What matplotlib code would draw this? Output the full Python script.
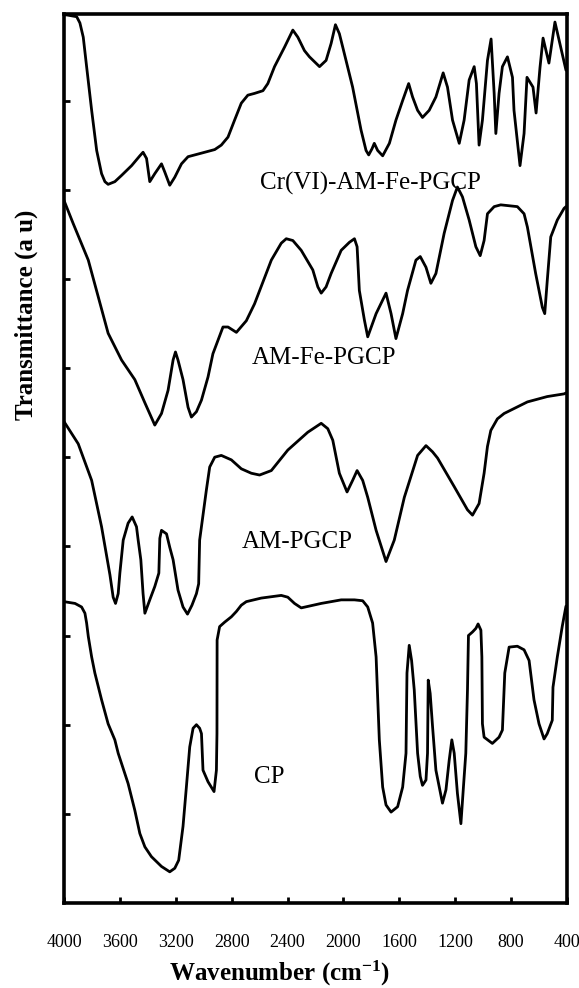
import matplotlib
matplotlib.use("Agg")
import matplotlib.pyplot as plt

# FTIR spectra, stacked with offsets (transmittance in arbitrary units)
cr_wn = [4000, 3981, 3909, 3886, 3862, 3838, 3802, 3766, 3731, 3707, 3684, 3636, 3588,
         3516, 3457, 3434, 3409, 3386, 3350, 3302, 3279, 3243, 3207, 3159, 3112, 3016,
         2921, 2874, 2826, 2779, 2731, 2684, 2636, 2576, 2541, 2493, 2421, 2362, 2326,
         2279, 2243, 2171, 2124, 2088, 2057, 2029, 2005, 1934, 1874, 1838, 1819, 1795,
         1779, 1755, 1719, 1671, 1624, 1576, 1533, 1505, 1469, 1434, 1386, 1338, 1286,
         1255, 1219, 1171, 1136, 1100, 1064, 1048, 1029, 1005, 969, 943, 921, 909, 886,
         862, 826, 790, 779, 736, 707, 686, 643, 621, 593, 571, 529, 486, 407]
cr_t = [9.96, 9.96, 9.94, 9.87, 9.71, 9.38, 8.89, 8.44, 8.18, 8.09, 8.06, 8.09, 8.16,
        8.27, 8.38, 8.42, 8.35, 8.09, 8.18, 8.29, 8.20, 8.05, 8.14, 8.29, 8.37, 8.41,
        8.45, 8.50, 8.59, 8.78, 8.97, 9.06, 9.08, 9.11, 9.19, 9.38, 9.60, 9.79, 9.71,
        9.56, 9.49, 9.38, 9.45, 9.64, 9.85, 9.75, 9.60, 9.15, 8.67, 8.44, 8.39, 8.46,
        8.52, 8.44, 8.38, 8.52, 8.78, 9.00, 9.19, 9.04, 8.89, 8.81, 8.89, 9.04, 9.31,
        9.15, 8.78, 8.52, 8.78, 9.23, 9.38, 9.19, 8.50, 8.78, 9.45, 9.69, 9.08, 8.63,
        9.08, 9.38, 9.49, 9.26, 8.89, 8.27, 8.63, 9.26, 9.15, 8.86, 9.37, 9.70, 9.42,
        9.88, 9.34]

fe_wn = [4000, 3934, 3826, 3755, 3684, 3588, 3493, 3421, 3350, 3302, 3255, 3219, 3202,
         3184, 3148, 3112, 3088, 3052, 3016, 2969, 2934, 2862, 2826, 2766, 2695, 2636,
         2516, 2445, 2409, 2362, 2302, 2219, 2183, 2159, 2124, 2088, 2016, 1957, 1921,
         1902, 1886, 1850, 1826, 1766, 1695, 1659, 1624, 1576, 1541, 1481, 1450, 1409,
         1374, 1338, 1279, 1219, 1184, 1148, 1100, 1052, 1021, 993, 969, 921, 874, 755,
         707, 683, 624, 576, 559, 541, 516, 469, 421, 407]
fe_t = [7.88, 7.62, 7.21, 6.80, 6.39, 6.09, 5.87, 5.61, 5.36, 5.49, 5.75, 6.09, 6.18,
        6.09, 5.87, 5.56, 5.45, 5.51, 5.64, 5.90, 6.16, 6.46, 6.46, 6.40, 6.53, 6.72,
        7.21, 7.40, 7.45, 7.43, 7.32, 7.10, 6.91, 6.84, 6.91, 7.06, 7.32, 7.41, 7.45,
        7.36, 6.87, 6.54, 6.35, 6.61, 6.84, 6.61, 6.33, 6.61, 6.87, 7.21, 7.25, 7.13,
        6.95, 7.06, 7.51, 7.88, 8.03, 7.92, 7.66, 7.36, 7.26, 7.43, 7.73, 7.81, 7.83,
        7.81, 7.73, 7.58, 7.06, 6.68, 6.61, 6.98, 7.47, 7.66, 7.79, 7.81]

am_wn = [4000, 3898, 3802, 3731, 3671, 3648, 3631, 3612, 3600, 3576, 3541, 3512, 3481,
         3469, 3450, 3434, 3421, 3386, 3350, 3321, 3314, 3302, 3266, 3243, 3219, 3184,
         3148, 3116, 3084, 3052, 3036, 3029, 2981, 2957, 2921, 2874, 2802, 2731, 2659,
         2600, 2516, 2398, 2255, 2159, 2112, 2076, 2029, 1974, 1934, 1902, 1862, 1826,
         1766, 1695, 1636, 1564, 1469, 1409, 1362, 1326, 1207, 1112, 1076, 1029, 993,
         969, 945, 898, 850, 683, 541, 421, 407]
am_t = [5.40, 5.15, 4.74, 4.22, 3.68, 3.43, 3.36, 3.47, 3.70, 4.07, 4.26, 4.33, 4.22,
        4.07, 3.85, 3.47, 3.25, 3.40, 3.55, 3.70, 4.09, 4.18, 4.14, 3.99, 3.85, 3.51,
        3.32, 3.24, 3.34, 3.47, 3.58, 4.07, 4.63, 4.89, 5.00, 5.02, 4.97, 4.87, 4.82,
        4.80, 4.85, 5.08, 5.28, 5.38, 5.32, 5.19, 4.82, 4.61, 4.74, 4.85, 4.74, 4.55,
        4.18, 3.83, 4.07, 4.55, 5.02, 5.13, 5.06, 4.99, 4.67, 4.41, 4.35, 4.48, 4.82,
        5.12, 5.30, 5.43, 5.49, 5.62, 5.68, 5.71, 5.72]

cp_wn = [4000, 3921, 3874, 3850, 3838, 3826, 3802, 3779, 3731, 3684, 3636, 3612, 3541,
         3493, 3457, 3421, 3374, 3302, 3243, 3207, 3179, 3148, 3124, 3100, 3076, 3052,
         3029, 3016, 3005, 2969, 2926, 2909, 2905, 2904, 2886, 2850, 2802, 2766, 2731,
         2695, 2588, 2445, 2398, 2350, 2302, 2159, 2016, 1921, 1862, 1826, 1791, 1766,
         1743, 1719, 1695, 1659, 1612, 1576, 1552, 1545, 1529, 1512, 1493, 1469, 1450,
         1434, 1409, 1398, 1393, 1379, 1362, 1338, 1291, 1266, 1243, 1224, 1207, 1184,
         1159, 1141, 1124, 1112, 1105, 1076, 1052, 1036, 1016, 1009, 1005, 993, 934, 886,
         862, 845, 814, 755, 707, 671, 636, 600, 564, 541, 505, 500, 469, 434, 407]
cp_t = [3.38, 3.36, 3.32, 3.25, 3.14, 2.99, 2.76, 2.58, 2.28, 2.01, 1.83, 1.68, 1.34,
        1.04, 0.78, 0.63, 0.52, 0.41, 0.35, 0.39, 0.48, 0.86, 1.30, 1.75, 1.96, 2.00,
        1.96, 1.90, 1.49, 1.36, 1.25, 1.49, 1.90, 2.95, 3.10, 3.15, 3.21, 3.27, 3.34,
        3.38, 3.42, 3.45, 3.43, 3.36, 3.31, 3.36, 3.40, 3.40, 3.39, 3.32, 3.14, 2.76,
        1.83, 1.30, 1.10, 1.02, 1.08, 1.30, 1.68, 2.58, 2.89, 2.72, 2.39, 1.68, 1.42,
        1.32, 1.38, 1.68, 2.50, 2.35, 1.98, 1.49, 1.12, 1.27, 1.60, 1.83, 1.68, 1.23,
        0.89, 1.30, 1.68, 2.39, 3.00, 3.04, 3.08, 3.13, 3.06, 2.76, 2.01, 1.86, 1.79,
        1.86, 1.94, 2.58, 2.87, 2.88, 2.84, 2.72, 2.28, 2.01, 1.84, 1.90, 2.05, 2.42,
        2.76, 3.10, 3.33]

labels = ["Cr(VI)-AM-Fe-PGCP", "AM-Fe-PGCP", "AM-PGCP", "CP"]
label_pos = [(1807, 8.07), (2136, 6.11), (2329, 4.05), (2529, 1.41)]

x_ticks = [4000, 3600, 3200, 2800, 2400, 2000, 1600, 1200, 800, 400]
y_ticks = [1, 2, 3, 4, 5, 6, 7, 8, 9]

plt.rcParams["font.family"] = ["Liberation Serif", "DejaVu Serif"]
plt.rcParams["mathtext.fontset"] = "custom"
plt.rcParams["mathtext.rm"] = "Liberation Serif"
plt.rcParams["mathtext.bf"] = "Liberation Serif:bold"
plt.rcParams["mathtext.default"] = "bf"

fig = plt.figure(figsize=(5.79, 9.88), dpi=100)
ax = fig.add_axes([0.1105, 0.0860, 0.8687, 0.8998])

for wn, t in [(cr_wn, cr_t), (fe_wn, fe_t), (am_wn, am_t), (cp_wn, cp_t)]:
    ax.plot(wn, t, color="black", linewidth=2.0, solid_joinstyle="round",
            solid_capstyle="round")

for text, (x, y) in zip(labels, label_pos):
    ax.text(x, y, text, fontsize=18, ha="center", va="center")

ax.set_xlim(4000, 400)
ax.set_ylim(0, 9.97)
ax.set_xticks(x_ticks)
ax.set_xticklabels([str(v) for v in x_ticks], fontsize=13)
ax.set_yticks(y_ticks)
ax.set_yticklabels([])
ax.tick_params(axis="x", direction="in", length=4, width=2, pad=22, top=False)
ax.tick_params(axis="y", direction="in", length=4, width=2, right=False)
for sp in ax.spines.values():
    sp.set_linewidth(2.6)

ax.set_xlabel(r"Wavenumber (cm$^{-1}$)", fontsize=18, fontweight="bold", va="center")
ax.xaxis.set_label_coords(0.429, -0.0795)
fig.text(0.045, 0.681, "Transmittance (a u)", fontsize=18, fontweight="bold",
         rotation=90, ha="center", va="center")

fig.savefig("out.png", dpi=100)
